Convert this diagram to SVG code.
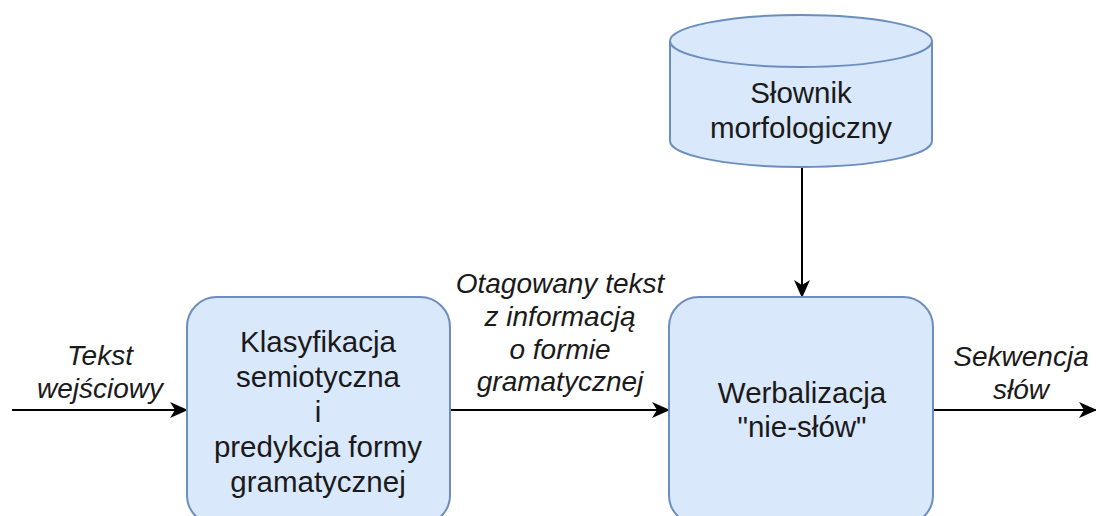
<svg xmlns="http://www.w3.org/2000/svg" width="1096" height="516" viewBox="0 0 1096 516">
<defs>
<style>
.node{fill:#dae8fc;stroke:#6c8ebf;stroke-width:2}
.t{font-family:"Liberation Sans",Arial,sans-serif;font-size:29.5px;fill:#1a1a1a;text-anchor:middle}
.lbl{font-family:"Liberation Sans",Arial,sans-serif;font-size:28px;font-style:italic;fill:#1a1a1a;text-anchor:middle}
.edge{stroke:#000;stroke-width:2;fill:none}
</style>
<marker id="arr" viewBox="0 0 18 16" refX="17" refY="8" markerWidth="18" markerHeight="16" markerUnits="userSpaceOnUse" orient="auto">
<path d="M0,0 L18,8 L0,16 L5,8 Z" fill="#000"/>
</marker>
</defs>
<rect width="1096" height="516" fill="#fff"/>
<g id="connectors">
<line class="edge" x1="12" y1="410" x2="187" y2="410" marker-end="url(#arr)"/>
<line class="edge" x1="450" y1="410" x2="669" y2="410" marker-end="url(#arr)"/>
<line class="edge" x1="933" y1="410" x2="1096" y2="410" marker-end="url(#arr)"/>
<line class="edge" x1="802" y1="168" x2="802" y2="297" marker-end="url(#arr)"/>
</g>
<g id="slownik">
<path class="node" d="M670,41 a131,26 0 0 1 262,0 v100 a131,26 0 0 1 -262,0 z"/>
<path class="node" d="M670,41 a131,26 0 0 0 262,0" fill="none"/>
<text class="t" x="801" y="103">Słownik</text>
<text class="t" x="801" y="138">morfologiczny</text>
</g>
<g id="klasyfikacja">
<rect class="node" x="187" y="297" width="263" height="228" rx="30" ry="30"/>
<text class="t" x="318" y="352">Klasyfikacja</text>
<text class="t" x="318" y="387">semiotyczna</text>
<text class="t" x="318" y="422">i</text>
<text class="t" x="318" y="457">predykcja formy</text>
<text class="t" x="318" y="492">gramatycznej</text>
</g>
<g id="werbalizacja">
<rect class="node" x="669" y="297" width="264" height="228" rx="30" ry="30"/>
<text class="t" x="802" y="403">Werbalizacja</text>
<text class="t" x="802" y="437">"nie-słów"</text>
</g>
<g id="labels">
<text class="lbl" x="100" y="365">Tekst</text>
<text class="lbl" x="100" y="398">wejściowy</text>
<text class="lbl" x="560" y="293">Otagowany tekst</text>
<text class="lbl" x="560" y="326">z informacją</text>
<text class="lbl" x="560" y="359">o formie</text>
<text class="lbl" x="560" y="391">gramatycznej</text>
<text class="lbl" x="1021" y="366">Sekwencja</text>
<text class="lbl" x="1021" y="399">słów</text>
</g>
</svg>
